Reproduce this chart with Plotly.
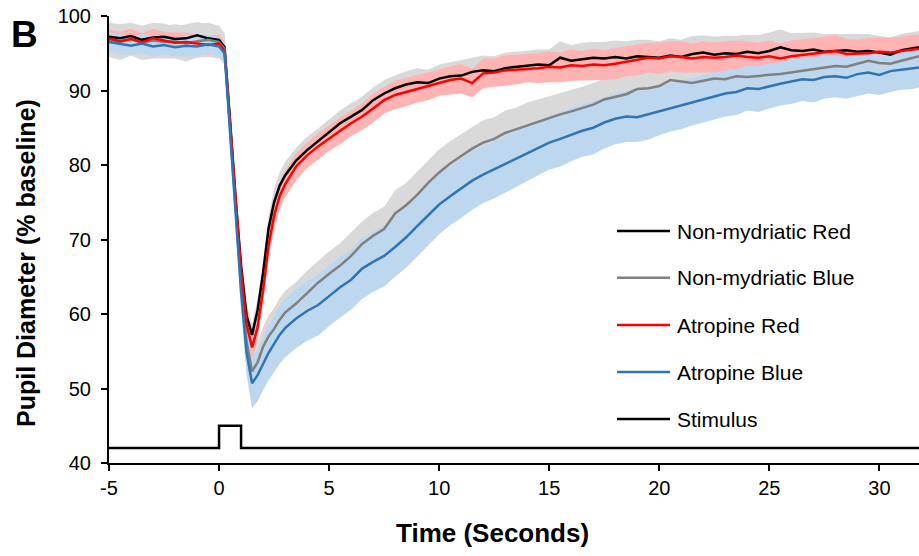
import numpy as np
import plotly.graph_objects as go

# ---------------- data ----------------
time_s = [-5, -4.5, -4, -3.5, -3, -2.5, -2, -1.5, -1, -0.5, 0,
          0.25, 0.5, 0.75, 1.0, 1.25, 1.5, 1.75, 2.0, 2.25, 2.5, 2.75, 3.0,
          3.5, 4, 4.5, 5, 5.5, 6, 6.5, 7, 7.5, 8,
          8.5, 9, 9.5, 10, 10.5, 11, 11.5, 12, 12.5, 13,
          13.5, 14, 14.5, 15, 15.5, 16, 16.5, 17, 17.5, 18,
          18.5, 19, 19.5, 20, 20.5, 21, 21.5, 22, 22.5, 23,
          23.5, 24, 24.5, 25, 25.5, 26, 26.5, 27, 27.5, 28,
          28.5, 29, 29.5, 30, 30.5, 31, 31.5, 31.8]

nonmyd_red = [97.2, 97.0, 97.3, 96.8, 97.1, 97.2, 96.9, 97.0, 97.4, 97.0, 96.8,
              95.8, 86.0, 75.5, 66.5, 59.8, 57.2, 60.5, 65.5, 71.5, 75.0, 77.2, 78.6,
              80.6, 82.0, 83.2, 84.3, 85.6, 86.5, 87.4, 88.7, 89.6, 90.3,
              90.8, 91.1, 91.0, 91.6, 91.9, 92.0, 92.5, 92.7, 92.6, 93.0,
              93.2, 93.3, 93.5, 93.4, 94.4, 94.0, 94.2, 94.4, 94.3, 94.5,
              94.3, 94.6, 94.5, 94.4, 94.7, 94.5, 94.9, 95.1, 94.8, 95.0,
              94.9, 95.2, 95.0, 95.3, 95.8, 95.4, 95.3, 95.5, 95.2, 95.3,
              95.4, 95.2, 95.3, 95.1, 94.8, 95.4, 95.6, 95.8]
nonmyd_red_err = [1.8, 1.9, 1.7, 1.8, 2.0, 1.8, 1.7, 1.9, 1.8, 1.9, 1.8,
                  1.7, 1.6, 1.5, 1.5, 1.5, 1.5, 1.6, 1.7, 1.7, 1.8, 1.8, 1.8,
                  1.7, 1.8, 1.7, 1.8, 1.7, 1.8, 1.8, 1.7, 1.8, 1.7,
                  1.8, 1.9, 1.8, 1.9, 1.9, 2.0, 1.9, 2.0, 2.0, 2.1,
                  2.0, 2.1, 2.0, 2.1, 2.2, 2.1, 2.2, 2.1, 2.2, 2.2,
                  2.3, 2.2, 2.3, 2.2, 2.3, 2.3, 2.4, 2.3, 2.4, 2.3,
                  2.4, 2.3, 2.4, 2.5, 2.4, 2.3, 2.4, 2.3, 2.4, 2.3,
                  2.3, 2.4, 2.3, 2.2, 2.3, 2.2, 2.3, 2.2]

nonmyd_blue = [96.8, 96.5, 96.9, 96.4, 96.7, 96.5, 96.6, 96.3, 96.6, 96.8, 96.5,
               95.6, 85.0, 74.0, 64.0, 56.3, 52.3, 53.5, 55.6, 57.0, 58.0, 59.2, 60.2,
               61.4, 62.8, 64.2, 65.4, 66.5, 67.8, 69.4, 70.5, 71.4, 73.5,
               74.6, 76.0, 77.6, 79.0, 80.2, 81.2, 82.2, 83.0, 83.5, 84.3,
               84.8, 85.4, 85.9, 86.4, 86.8, 87.2, 87.7, 88.1, 88.8, 89.2,
               89.5, 90.2, 90.3, 90.6, 91.4, 91.2, 91.0, 91.3, 91.6, 91.5,
               91.9, 91.8, 92.0, 92.1, 92.2, 92.4, 92.6, 92.8, 93.0, 93.3,
               93.2, 93.6, 94.0, 93.7, 93.6, 94.0, 94.4, 94.6]
nonmyd_blue_err = [2.3, 2.4, 2.2, 2.3, 2.4, 2.2, 2.3, 2.4, 2.2, 2.3, 2.2,
                   2.1, 2.0, 2.0, 2.1, 2.3, 2.5, 2.6, 2.7, 2.8, 2.8, 2.9, 2.9,
                   2.9, 3.0, 2.9, 3.0, 3.0, 3.1, 3.0, 3.1, 3.0, 3.1,
                   3.0, 3.1, 3.0, 3.1, 3.0, 3.0, 2.9, 3.0, 2.9, 3.0,
                   2.9, 3.0, 2.9, 2.9, 2.8, 2.9, 2.8, 2.9, 2.8, 2.8,
                   2.8, 2.7, 2.8, 2.7, 2.8, 2.7, 2.8, 2.7, 2.8, 2.7,
                   2.7, 2.6, 2.7, 2.6, 2.7, 2.6, 2.7, 2.6, 2.7, 2.6,
                   2.6, 2.5, 2.6, 2.5, 2.6, 2.5, 2.6, 2.5]

atropine_red = [97.0, 96.6, 96.9, 96.5, 97.0, 96.7, 96.4, 96.5, 96.3, 96.1, 96.3,
                95.3, 85.5, 75.0, 65.8, 58.6, 55.5, 58.2, 63.2, 69.2, 73.2, 75.8, 77.4,
                79.8, 81.3, 82.5, 83.6, 84.6, 85.6, 86.5, 87.6, 88.7, 89.4,
                89.8, 90.2, 90.6, 91.1, 91.4, 91.6, 91.0, 92.3, 92.4, 92.7,
                92.8, 93.0, 93.0, 93.2, 93.1, 93.4, 93.3, 93.5, 93.4, 93.6,
                93.9, 94.1, 94.4, 94.3, 94.6, 94.5, 94.3, 94.5, 94.4, 94.5,
                94.7, 94.5, 94.4, 94.6, 94.3, 94.6, 94.8, 94.9, 95.2, 95.3,
                94.9, 94.9, 95.0, 95.2, 95.1, 95.3, 95.5, 95.6]
atropine_red_err = [1.2, 1.3, 1.4, 1.2, 1.3, 1.2, 1.4, 1.3, 1.2, 1.3, 1.2,
                    1.3, 1.4, 1.5, 1.5, 1.6, 1.6, 1.7, 1.7, 1.7, 1.8, 1.8, 1.8,
                    1.8, 1.7, 1.8, 1.7, 1.8, 1.7, 1.8, 1.9, 1.8, 1.9,
                    1.9, 1.8, 1.9, 1.8, 1.9, 2.0, 1.9, 2.0, 1.9, 2.0,
                    2.0, 1.9, 2.0, 2.1, 2.0, 2.1, 2.0, 2.1, 2.0, 2.1,
                    2.0, 2.1, 2.0, 2.1, 2.0, 2.1, 2.0, 2.1, 2.0, 2.1,
                    2.0, 2.1, 2.0, 2.1, 2.0, 2.1, 2.0, 2.1, 2.0, 2.1,
                    2.0, 1.9, 2.0, 1.9, 2.0, 1.9, 2.0, 1.9]

atropine_blue = [96.5, 96.2, 96.0, 96.3, 95.9, 96.1, 95.8, 96.0, 95.9, 96.2, 95.9,
                 95.0, 84.5, 73.5, 63.0, 54.8, 50.7, 51.8, 53.4, 54.8, 56.0, 57.2, 58.1,
                 59.4, 60.4, 61.2, 62.4, 63.6, 64.6, 66.1, 67.0, 67.8, 69.0,
                 70.3, 71.8, 73.3, 74.7, 75.8, 76.9, 77.9, 78.7, 79.4, 80.1,
                 80.8, 81.6, 82.3, 83.0, 83.5, 84.1, 84.6, 85.0, 85.7, 86.2,
                 86.5, 86.4, 86.8, 87.3, 87.7, 88.1, 88.5, 88.9, 89.3, 89.6,
                 89.8, 90.3, 90.2, 90.6, 90.9, 91.2, 91.5, 91.4, 91.8, 91.9,
                 91.7, 92.2, 92.4, 92.1, 92.6, 92.8, 93.0, 93.1]
atropine_blue_err = [1.3, 1.4, 1.2, 1.3, 1.4, 1.3, 1.2, 1.4, 1.3, 1.2, 1.3,
                     1.4, 1.8, 2.2, 2.6, 3.0, 3.4, 3.5, 3.6, 3.7, 3.8, 3.9, 3.9,
                     4.0, 4.0, 4.1, 4.0, 4.1, 4.0, 4.1, 4.0, 4.1, 4.0,
                     4.1, 4.0, 4.1, 4.0, 3.9, 4.0, 3.9, 3.8, 3.9, 3.8,
                     3.7, 3.8, 3.7, 3.6, 3.7, 3.6, 3.5, 3.6, 3.5, 3.4,
                     3.4, 3.3, 3.4, 3.3, 3.2, 3.3, 3.2, 3.1, 3.2, 3.1,
                     3.1, 3.0, 3.1, 3.0, 2.9, 3.0, 2.9, 3.0, 2.9, 2.8,
                     2.8, 2.9, 2.8, 2.7, 2.8, 2.7, 2.8, 2.7]

stim_t = [-5, 0, 0, 1, 1, 31.8]
stim_y = [42, 42, 45, 45, 42, 42]

legend_labels = ["Non-mydriatic Red", "Non-mydriatic Blue", "Atropine Red",
                 "Atropine Blue", "Stimulus"]
x_ticks = [-5, 0, 5, 10, 15, 20, 25, 30]
y_ticks = [40, 50, 60, 70, 80, 90, 100]

# ---------------- styling ----------------
W, H = 919, 556
ML, MR, MT, MB = 109, 0, 16, 93
FONT = "Liberation Sans, Arial, sans-serif"

series = [
    (nonmyd_red, nonmyd_red_err, "#000000", "#d9d9d9"),
    (nonmyd_blue, nonmyd_blue_err, "#808080", "#d9d9d9"),
    (atropine_red, atropine_red_err, "#ff0000", "#ffb3b3"),
    (atropine_blue, atropine_blue_err, "#2e75b6", "#bdd7ee"),
]

t = np.array(time_s)
fig = go.Figure()

# bands
for vals, err, lc, fc in series:
    v = np.array(vals)
    e = np.array(err)
    up = v + e
    lo = v - e
    fig.add_trace(go.Scatter(
        x=np.concatenate([t, t[::-1]]),
        y=np.concatenate([up, lo[::-1]]),
        fill="toself", fillcolor=fc, line=dict(width=0),
        mode="lines", hoverinfo="skip", showlegend=False))

# lines
for vals, err, lc, fc in series:
    fig.add_trace(go.Scatter(x=time_s, y=vals, mode="lines",
                             line=dict(color=lc, width=2.5),
                             showlegend=False))

fig.add_trace(go.Scatter(x=stim_t, y=stim_y, mode="lines",
                         line=dict(color="#000000", width=2.5),
                         showlegend=False))

# ---------------- manual legend ----------------
pw = W - ML - MR
ph = H - MT - MB


def px_x(p):
    return (p - ML) / pw


def px_y(p):
    return (H - MB - p) / ph


leg_colors = ["#000000", "#808080", "#ff0000", "#2e75b6", "#000000"]
leg_rows = [231, 277.7, 325, 372, 419]
shapes = []
annotations = []
for lab, col, ry in zip(legend_labels, leg_colors, leg_rows):
    shapes.append(dict(type="line", xref="paper", yref="paper",
                       x0=px_x(617), x1=px_x(670), y0=px_y(ry), y1=px_y(ry),
                       line=dict(color=col, width=2.5)))
    annotations.append(dict(text=lab, xref="paper", yref="paper",
                            x=px_x(675), y=px_y(ry), xanchor="left",
                            yanchor="middle", showarrow=False,
                            font=dict(family=FONT, size=21, color="#000000")))

annotations.append(dict(text="<b>Time (Seconds)</b>", xref="paper", yref="paper",
                        x=px_x(492), y=px_y(533), xanchor="center",
                        yanchor="middle", showarrow=False,
                        font=dict(family=FONT, size=26, color="#000000")))
annotations.append(dict(text="<b>Pupil Diameter (% baseline)</b>", xref="paper",
                        yref="paper", x=px_x(26), y=px_y(263), xanchor="center",
                        yanchor="middle", textangle=-90, showarrow=False,
                        font=dict(family=FONT, size=25, color="#000000")))
annotations.append(dict(text="<b>B</b>", xref="paper", yref="paper",
                        x=px_x(24), y=px_y(35), xanchor="center",
                        yanchor="middle", showarrow=False,
                        font=dict(family=FONT, size=37, color="#000000")))

fig.update_layout(
    width=W, height=H, autosize=False,
    margin=dict(l=ML, r=MR, t=MT, b=MB, pad=0),
    paper_bgcolor="white", plot_bgcolor="white",
    showlegend=False,
    shapes=shapes, annotations=annotations,
    font=dict(family=FONT, size=20, color="#000000"),
)
fig.update_xaxes(range=[-5, 31.8], tickmode="array", tickvals=x_ticks,
                 ticktext=[str(v) for v in x_ticks],
                 showline=True, linecolor="#000000", linewidth=2,
                 ticks="outside", ticklen=6, tickwidth=1.5, tickcolor="#000000",
                 showgrid=False, zeroline=False,
                 tickfont=dict(family=FONT, size=20, color="#000000"))
fig.update_yaxes(range=[40, 100], tickmode="array", tickvals=y_ticks,
                 ticktext=[str(v) for v in y_ticks],
                 showline=True, linecolor="#000000", linewidth=2,
                 ticks="outside", ticklen=6, tickwidth=1.5, tickcolor="#000000",
                 showgrid=False, zeroline=False, ticklabelstandoff=6,
                 tickfont=dict(family=FONT, size=20, color="#000000"))

fig.write_html("out.html")
